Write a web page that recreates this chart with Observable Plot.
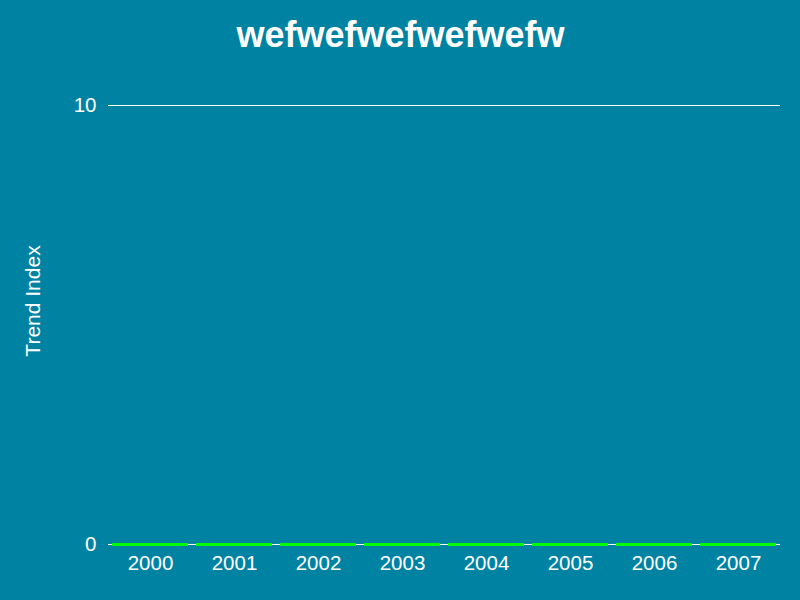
<!DOCTYPE html>
<html>
<head>
<meta charset="utf-8">
<script src="https://cdn.jsdelivr.net/npm/d3@7"></script>
<script src="https://cdn.jsdelivr.net/npm/@observablehq/plot@0.6"></script>
<style>
  html, body { margin: 0; padding: 0; background: #0083a3; }
  #chart { width: 800px; height: 600px; }
</style>
</head>
<body>
<div id="chart"></div>
<script>
const title = "wefwefwefwefwefw";
const yLabel = "Trend Index";
const years = ["2000", "2001", "2002", "2003", "2004", "2005", "2006", "2007"];
const values = [0, 0, 0, 0, 0, 0, 0, 0];
const yTicks = [0, 10];

const data = years.map((y, i) => ({year: y, value: values[i]}));

const chart = Plot.plot({
  width: 800,
  height: 600,
  marginTop: 105,
  marginBottom: 56,
  marginLeft: 108,
  marginRight: 20,
  style: {
    background: "#0083a3",
    color: "white",
    fontFamily: "'Liberation Sans', Arial, sans-serif",
    fontSize: "20.5px"
  },
  x: {domain: years, padding: 0, label: null},
  y: {domain: [0, 10], label: null},
  marks: [
    Plot.gridY(yTicks, {stroke: "white", strokeOpacity: 1, strokeWidth: 1}),
    Plot.ruleY([0], {stroke: "white", strokeWidth: 1}),
    Plot.axisY(yTicks, {tickSize: 0, tickPadding: 12, fill: "white", fontSize: 20.5, label: null}),
    Plot.axisX({tickSize: 0, tickPadding: 11, fill: "white", fontSize: 20.5, label: null}),
    Plot.tickY(data, {x: "year", y: "value", stroke: "#00ff00", strokeWidth: 3, insetLeft: 4, insetRight: 4}),
    Plot.text([yLabel], {frameAnchor: "left", textAnchor: "middle", lineAnchor: "middle", rotate: -90, dx: -75, dy: -24, fill: "white", fontSize: 21}),
    Plot.text([title], {frameAnchor: "top", textAnchor: "middle", lineAnchor: "middle", dx: -44, dy: -70, fill: "white", fontSize: 36, fontWeight: "bold"})
  ]
});
document.getElementById("chart").appendChild(chart);
</script>
</body>
</html>
